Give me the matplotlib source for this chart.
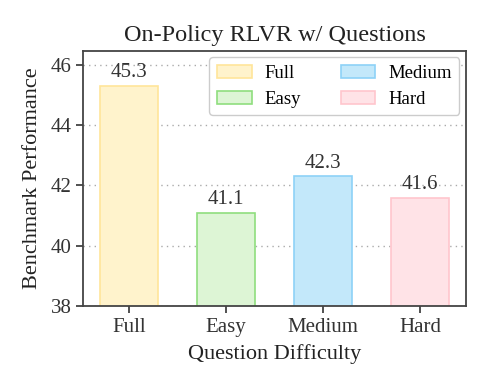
import numpy as np
import matplotlib.pyplot as plt
from matplotlib.patches import Patch

categories = ["Full", "Easy", "Medium", "Hard"]
scores = [45.3, 41.1, 42.3, 41.6]
face_colors = ["#FFF3CC", "#DDF5D5", "#C3E8FA", "#FFE3E7"]
edge_colors = ["#FFE59A", "#8FDE7E", "#8DD2F7", "#FFC6CD"]

plt.rcParams["font.family"] = ["Liberation Serif", "DejaVu Serif"]

fig, ax = plt.subplots(figsize=(4.92, 3.8), dpi=100)

x = np.arange(len(categories))
bars = ax.bar(x, scores, width=0.6, bottom=0, color=face_colors,
              edgecolor=edge_colors, linewidth=1.2, zorder=2)

for xi, v in zip(x, scores):
    ax.text(xi, v + 0.13, f"{v:.1f}", ha="center", va="bottom",
            fontsize=15, color="#333333", zorder=3)

ax.set_ylim(38, 46.47)
ax.set_xlim(-0.475, 3.475)
ax.set_yticks([38, 40, 42, 44, 46])
ax.set_xticks(x)
ax.set_xticklabels(categories)
ax.tick_params(axis="both", labelsize=15, colors="#333333", length=5, width=1.2)
ax.tick_params(axis="x", pad=4)
ax.yaxis.grid(True, linestyle=(0, (1, 3)), color="#aaaaaa", linewidth=1.0, zorder=0)
ax.set_axisbelow(True)
for s in ax.spines.values():
    s.set_color("#444444")
    s.set_linewidth(1.3)

ax.set_xlabel("Question Difficulty", fontsize=16, color="#222222", labelpad=5)
ax.set_ylabel("Benchmark Performance", fontsize=16, color="#222222", labelpad=6)
ax.set_title("On-Policy RLVR w/ Questions", fontsize=17.5, color="#222222", pad=7)

handles = [Patch(facecolor=f, edgecolor=e, linewidth=1.2, label=c)
           for c, f, e in zip(categories, face_colors, edge_colors)]
ax.legend(handles=handles, ncol=2, loc="upper right", fontsize=13.5,
          frameon=True, framealpha=1.0, edgecolor="#cccccc",
          handlelength=1.85, handletextpad=0.7, columnspacing=2.1,
          labelspacing=0.45, borderpad=0.4, borderaxespad=0.35)

fig.subplots_adjust(left=0.169, right=0.947, top=0.866, bottom=0.195)
fig.savefig("out.png", dpi=100)
